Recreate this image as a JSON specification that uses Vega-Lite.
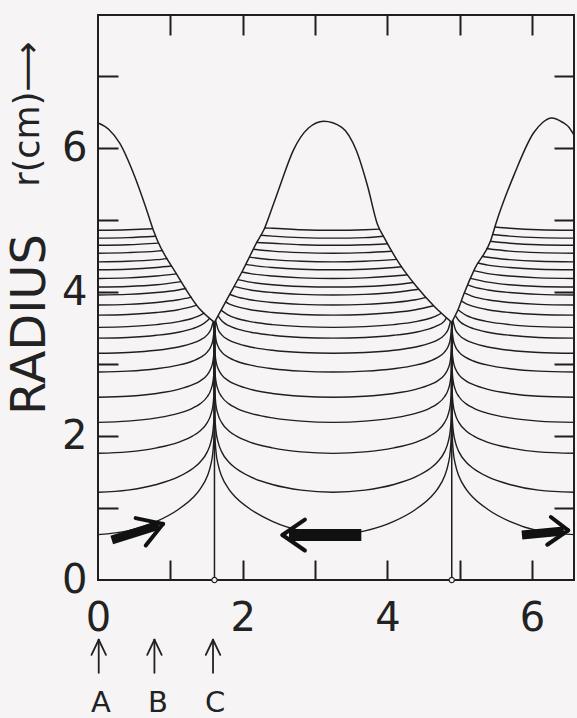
{
  "$schema": "https://vega.github.io/schema/vega-lite/v6.json",
  "width": 476,
  "height": 565,
  "autosize": {"type": "none"},
  "padding": {"left": 98, "top": 15, "right": 3, "bottom": 138},
  "background": "#f6f4f5",
  "config": {
    "view": {"stroke": "#1f1f1f", "strokeWidth": 2},
    "font": "DejaVu Sans"
  },
  "datasets": {
    "lines": [
      {"curve":"lA","z":0,"r":4.86},{"curve":"lA","z":0.41,"r":4.867},{"curve":"lA","z":0.76,"r":4.88},
      {"curve":"lB","z":0,"r":4.75},{"curve":"lB","z":0.41,"r":4.757},{"curve":"lB","z":0.798,"r":4.776},
      {"curve":"lC","z":0,"r":4.65},{"curve":"lC","z":0.41,"r":4.657},{"curve":"lC","z":0.843,"r":4.68},
      {"curve":"lD","z":0,"r":4.54},{"curve":"lD","z":0.41,"r":4.548},{"curve":"lD","z":0.81,"r":4.569},{"curve":"lD","z":0.9,"r":4.578},
      {"curve":"lE","z":0,"r":4.42},{"curve":"lE","z":0.41,"r":4.428},{"curve":"lE","z":0.81,"r":4.451},{"curve":"lE","z":0.963,"r":4.466},
      {"curve":"lF","z":0,"r":4.31},{"curve":"lF","z":0.41,"r":4.318},{"curve":"lF","z":0.81,"r":4.342},{"curve":"lF","z":1.022,"r":4.362},
      {"curve":"lG","z":0,"r":4.19},{"curve":"lG","z":0.41,"r":4.198},{"curve":"lG","z":0.81,"r":4.223},{"curve":"lG","z":1.084,"r":4.254},
      {"curve":"lH","z":0,"r":4.07},{"curve":"lH","z":0.41,"r":4.078},{"curve":"lH","z":0.81,"r":4.102},{"curve":"lH","z":1.156,"r":4.146},
      {"curve":"lI","z":0,"r":3.96},{"curve":"lI","z":0.41,"r":3.969},{"curve":"lI","z":0.81,"r":3.994},{"curve":"lI","z":1.11,"r":4.03},{"curve":"lI","z":1.22,"r":4.05},
      {"curve":"lJ","z":0,"r":3.82},{"curve":"lJ","z":0.41,"r":3.829},{"curve":"lJ","z":0.81,"r":3.855},{"curve":"lJ","z":1.11,"r":3.893},{"curve":"lJ","z":1.295,"r":3.93},
      {"curve":"lK","z":0,"r":3.68},{"curve":"lK","z":0.41,"r":3.689},{"curve":"lK","z":0.81,"r":3.716},{"curve":"lK","z":1.11,"r":3.755},{"curve":"lK","z":1.31,"r":3.801},{"curve":"lK","z":1.366,"r":3.82},
      {"curve":"lL","z":0,"r":3.51},{"curve":"lL","z":0.41,"r":3.52},{"curve":"lL","z":0.81,"r":3.548},{"curve":"lL","z":1.11,"r":3.589},{"curve":"lL","z":1.31,"r":3.637},{"curve":"lL","z":1.41,"r":3.676},{"curve":"lL","z":1.471,"r":3.71},
      {"curve":"lM","z":0,"r":3.36},{"curve":"lM","z":0.41,"r":3.37},{"curve":"lM","z":0.81,"r":3.4},{"curve":"lM","z":1.11,"r":3.443},{"curve":"lM","z":1.31,"r":3.493},{"curve":"lM","z":1.41,"r":3.533},{"curve":"lM","z":1.51,"r":3.601},{"curve":"lM","z":1.546,"r":3.64},
      {"curve":"lN","z":0,"r":3.15},{"curve":"lN","z":0.41,"r":3.161},{"curve":"lN","z":0.81,"r":3.192},{"curve":"lN","z":1.11,"r":3.238},{"curve":"lN","z":1.31,"r":3.291},{"curve":"lN","z":1.41,"r":3.333},{"curve":"lN","z":1.51,"r":3.406},{"curve":"lN","z":1.56,"r":3.479},{"curve":"lN","z":1.594,"r":3.595},
      {"curve":"lO","z":0,"r":2.89},{"curve":"lO","z":0.41,"r":2.902},{"curve":"lO","z":0.81,"r":2.936},{"curve":"lO","z":1.11,"r":2.985},{"curve":"lO","z":1.31,"r":3.043},{"curve":"lO","z":1.41,"r":3.089},{"curve":"lO","z":1.51,"r":3.167},{"curve":"lO","z":1.56,"r":3.245},{"curve":"lO","z":1.59,"r":3.344},{"curve":"lO","z":1.605,"r":3.489},{"curve":"lO","z":1.61,"r":3.58},
      {"curve":"lP","z":0,"r":2.54},{"curve":"lP","z":0.41,"r":2.553},{"curve":"lP","z":0.81,"r":2.592},{"curve":"lP","z":1.11,"r":2.648},{"curve":"lP","z":1.31,"r":2.713},{"curve":"lP","z":1.41,"r":2.764},{"curve":"lP","z":1.51,"r":2.851},{"curve":"lP","z":1.56,"r":2.938},{"curve":"lP","z":1.59,"r":3.046},{"curve":"lP","z":1.605,"r":3.205},{"curve":"lP","z":1.61,"r":3.58},
      {"curve":"lQ","z":0,"r":2.19},{"curve":"lQ","z":0.41,"r":2.207},{"curve":"lQ","z":0.81,"r":2.252},{"curve":"lQ","z":1.11,"r":2.315},{"curve":"lQ","z":1.31,"r":2.389},{"curve":"lQ","z":1.41,"r":2.447},{"curve":"lQ","z":1.51,"r":2.546},{"curve":"lQ","z":1.56,"r":2.642},{"curve":"lQ","z":1.59,"r":2.762},{"curve":"lQ","z":1.605,"r":2.936},{"curve":"lQ","z":1.61,"r":3.58},
      {"curve":"lR","z":0,"r":1.76},{"curve":"lR","z":0.41,"r":1.78},{"curve":"lR","z":0.81,"r":1.836},{"curve":"lR","z":1.11,"r":1.913},{"curve":"lR","z":1.31,"r":2.002},{"curve":"lR","z":1.41,"r":2.071},{"curve":"lR","z":1.51,"r":2.186},{"curve":"lR","z":1.56,"r":2.298},{"curve":"lR","z":1.59,"r":2.435},{"curve":"lR","z":1.605,"r":2.631},{"curve":"lR","z":1.61,"r":3.58},
      {"curve":"lS","z":0,"r":1.22},{"curve":"lS","z":0.41,"r":1.249},{"curve":"lS","z":0.81,"r":1.327},{"curve":"lS","z":1.11,"r":1.432},{"curve":"lS","z":1.31,"r":1.549},{"curve":"lS","z":1.41,"r":1.637},{"curve":"lS","z":1.51,"r":1.78},{"curve":"lS","z":1.56,"r":1.916},{"curve":"lS","z":1.59,"r":2.078},{"curve":"lS","z":1.605,"r":2.304},{"curve":"lS","z":1.61,"r":3.58},
      {"curve":"lT","z":0,"r":0.63},{"curve":"lT","z":0.41,"r":0.683},{"curve":"lT","z":0.81,"r":0.815},{"curve":"lT","z":1.11,"r":0.98},{"curve":"lT","z":1.31,"r":1.142},{"curve":"lT","z":1.41,"r":1.26},{"curve":"lT","z":1.51,"r":1.441},{"curve":"lT","z":1.56,"r":1.605},{"curve":"lT","z":1.59,"r":1.796},{"curve":"lT","z":1.605,"r":2.054},{"curve":"lT","z":1.61,"r":3.58},

      {"curve":"mA","z":2.3,"r":4.89},{"curve":"mA","z":2.41,"r":4.888},{"curve":"mA","z":2.81,"r":4.867},{"curve":"mA","z":3.25,"r":4.86},{"curve":"mA","z":3.69,"r":4.867},{"curve":"mA","z":3.898,"r":4.875},
      {"curve":"mB","z":2.25,"r":4.79},{"curve":"mB","z":2.41,"r":4.778},{"curve":"mB","z":2.81,"r":4.757},{"curve":"mB","z":3.25,"r":4.75},{"curve":"mB","z":3.69,"r":4.757},{"curve":"mB","z":3.947,"r":4.776},
      {"curve":"mC","z":2.195,"r":4.69},{"curve":"mC","z":2.41,"r":4.679},{"curve":"mC","z":2.81,"r":4.657},{"curve":"mC","z":3.25,"r":4.65},{"curve":"mC","z":3.69,"r":4.657},{"curve":"mC","z":4.005,"r":4.672},
      {"curve":"mD","z":2.148,"r":4.596},{"curve":"mD","z":2.41,"r":4.569},{"curve":"mD","z":2.81,"r":4.548},{"curve":"mD","z":3.25,"r":4.54},{"curve":"mD","z":3.69,"r":4.548},{"curve":"mD","z":4.065,"r":4.567},
      {"curve":"mE","z":2.093,"r":4.486},{"curve":"mE","z":2.41,"r":4.451},{"curve":"mE","z":2.81,"r":4.428},{"curve":"mE","z":3.25,"r":4.42},{"curve":"mE","z":3.69,"r":4.428},{"curve":"mE","z":4.13,"r":4.454},
      {"curve":"mF","z":2.043,"r":4.386},{"curve":"mF","z":2.11,"r":4.375},{"curve":"mF","z":2.41,"r":4.342},{"curve":"mF","z":2.81,"r":4.318},{"curve":"mF","z":3.25,"r":4.31},{"curve":"mF","z":3.69,"r":4.318},{"curve":"mF","z":4.09,"r":4.342},{"curve":"mF","z":4.2,"r":4.352},
      {"curve":"mG","z":1.99,"r":4.28},{"curve":"mG","z":2.11,"r":4.257},{"curve":"mG","z":2.41,"r":4.223},{"curve":"mG","z":2.81,"r":4.198},{"curve":"mG","z":3.25,"r":4.19},{"curve":"mG","z":3.69,"r":4.198},{"curve":"mG","z":4.09,"r":4.223},{"curve":"mG","z":4.282,"r":4.241},
      {"curve":"mH","z":1.93,"r":4.174},{"curve":"mH","z":2.11,"r":4.138},{"curve":"mH","z":2.41,"r":4.102},{"curve":"mH","z":2.81,"r":4.078},{"curve":"mH","z":3.25,"r":4.07},{"curve":"mH","z":3.69,"r":4.078},{"curve":"mH","z":4.09,"r":4.102},{"curve":"mH","z":4.36,"r":4.134},
      {"curve":"mI","z":1.88,"r":4.08},{"curve":"mI","z":2.11,"r":4.03},{"curve":"mI","z":2.41,"r":3.994},{"curve":"mI","z":2.81,"r":3.969},{"curve":"mI","z":3.25,"r":3.96},{"curve":"mI","z":3.69,"r":3.969},{"curve":"mI","z":4.09,"r":3.994},{"curve":"mI","z":4.437,"r":4.039},
      {"curve":"mJ","z":1.82,"r":3.97},{"curve":"mJ","z":1.91,"r":3.937},{"curve":"mJ","z":2.11,"r":3.893},{"curve":"mJ","z":2.41,"r":3.855},{"curve":"mJ","z":2.81,"r":3.829},{"curve":"mJ","z":3.25,"r":3.82},{"curve":"mJ","z":3.69,"r":3.829},{"curve":"mJ","z":4.09,"r":3.855},{"curve":"mJ","z":4.39,"r":3.893},{"curve":"mJ","z":4.538,"r":3.926},
      {"curve":"mK","z":1.764,"r":3.864},{"curve":"mK","z":1.81,"r":3.838},{"curve":"mK","z":1.91,"r":3.801},{"curve":"mK","z":2.11,"r":3.755},{"curve":"mK","z":2.41,"r":3.716},{"curve":"mK","z":2.81,"r":3.689},{"curve":"mK","z":3.25,"r":3.68},{"curve":"mK","z":3.69,"r":3.689},{"curve":"mK","z":4.09,"r":3.716},{"curve":"mK","z":4.39,"r":3.755},{"curve":"mK","z":4.641,"r":3.81},
      {"curve":"mL","z":1.7,"r":3.75},{"curve":"mL","z":1.81,"r":3.676},{"curve":"mL","z":1.91,"r":3.637},{"curve":"mL","z":2.11,"r":3.589},{"curve":"mL","z":2.41,"r":3.548},{"curve":"mL","z":2.81,"r":3.52},{"curve":"mL","z":3.25,"r":3.51},{"curve":"mL","z":3.69,"r":3.52},{"curve":"mL","z":4.09,"r":3.548},{"curve":"mL","z":4.39,"r":3.589},{"curve":"mL","z":4.59,"r":3.637},{"curve":"mL","z":4.69,"r":3.676},{"curve":"mL","z":4.748,"r":3.71},
      {"curve":"mM","z":1.66,"r":3.67},{"curve":"mM","z":1.71,"r":3.601},{"curve":"mM","z":1.81,"r":3.533},{"curve":"mM","z":1.91,"r":3.493},{"curve":"mM","z":2.11,"r":3.443},{"curve":"mM","z":2.41,"r":3.4},{"curve":"mM","z":2.81,"r":3.37},{"curve":"mM","z":3.25,"r":3.36},{"curve":"mM","z":3.69,"r":3.37},{"curve":"mM","z":4.09,"r":3.4},{"curve":"mM","z":4.39,"r":3.443},{"curve":"mM","z":4.59,"r":3.493},{"curve":"mM","z":4.69,"r":3.533},{"curve":"mM","z":4.79,"r":3.601},{"curve":"mM","z":4.819,"r":3.645},
      {"curve":"mN","z":1.625,"r":3.61},{"curve":"mN","z":1.66,"r":3.479},{"curve":"mN","z":1.71,"r":3.406},{"curve":"mN","z":1.81,"r":3.333},{"curve":"mN","z":1.91,"r":3.291},{"curve":"mN","z":2.11,"r":3.238},{"curve":"mN","z":2.41,"r":3.192},{"curve":"mN","z":2.81,"r":3.161},{"curve":"mN","z":3.25,"r":3.15},{"curve":"mN","z":3.69,"r":3.161},{"curve":"mN","z":4.09,"r":3.192},{"curve":"mN","z":4.39,"r":3.238},{"curve":"mN","z":4.59,"r":3.291},{"curve":"mN","z":4.69,"r":3.333},{"curve":"mN","z":4.79,"r":3.406},{"curve":"mN","z":4.84,"r":3.479},{"curve":"mN","z":4.874,"r":3.595},
      {"curve":"mO","z":1.61,"r":3.58},{"curve":"mO","z":1.615,"r":3.489},{"curve":"mO","z":1.63,"r":3.344},{"curve":"mO","z":1.66,"r":3.245},{"curve":"mO","z":1.71,"r":3.167},{"curve":"mO","z":1.81,"r":3.089},{"curve":"mO","z":1.91,"r":3.043},{"curve":"mO","z":2.11,"r":2.985},{"curve":"mO","z":2.41,"r":2.936},{"curve":"mO","z":2.81,"r":2.902},{"curve":"mO","z":3.25,"r":2.89},{"curve":"mO","z":3.69,"r":2.902},{"curve":"mO","z":4.09,"r":2.936},{"curve":"mO","z":4.39,"r":2.985},{"curve":"mO","z":4.59,"r":3.043},{"curve":"mO","z":4.69,"r":3.089},{"curve":"mO","z":4.79,"r":3.167},{"curve":"mO","z":4.84,"r":3.245},{"curve":"mO","z":4.87,"r":3.344},{"curve":"mO","z":4.885,"r":3.489},{"curve":"mO","z":4.89,"r":3.58},
      {"curve":"mP","z":1.61,"r":3.58},{"curve":"mP","z":1.615,"r":3.205},{"curve":"mP","z":1.63,"r":3.046},{"curve":"mP","z":1.66,"r":2.938},{"curve":"mP","z":1.71,"r":2.851},{"curve":"mP","z":1.81,"r":2.764},{"curve":"mP","z":1.91,"r":2.713},{"curve":"mP","z":2.11,"r":2.648},{"curve":"mP","z":2.41,"r":2.592},{"curve":"mP","z":2.81,"r":2.553},{"curve":"mP","z":3.25,"r":2.54},{"curve":"mP","z":3.69,"r":2.553},{"curve":"mP","z":4.09,"r":2.592},{"curve":"mP","z":4.39,"r":2.648},{"curve":"mP","z":4.59,"r":2.713},{"curve":"mP","z":4.69,"r":2.764},{"curve":"mP","z":4.79,"r":2.851},{"curve":"mP","z":4.84,"r":2.938},{"curve":"mP","z":4.87,"r":3.046},{"curve":"mP","z":4.885,"r":3.205},{"curve":"mP","z":4.89,"r":3.58},
      {"curve":"mQ","z":1.61,"r":3.58},{"curve":"mQ","z":1.615,"r":2.936},{"curve":"mQ","z":1.63,"r":2.762},{"curve":"mQ","z":1.66,"r":2.642},{"curve":"mQ","z":1.71,"r":2.546},{"curve":"mQ","z":1.81,"r":2.447},{"curve":"mQ","z":1.91,"r":2.389},{"curve":"mQ","z":2.11,"r":2.315},{"curve":"mQ","z":2.41,"r":2.252},{"curve":"mQ","z":2.81,"r":2.207},{"curve":"mQ","z":3.25,"r":2.19},{"curve":"mQ","z":3.69,"r":2.207},{"curve":"mQ","z":4.09,"r":2.252},{"curve":"mQ","z":4.39,"r":2.315},{"curve":"mQ","z":4.59,"r":2.389},{"curve":"mQ","z":4.69,"r":2.447},{"curve":"mQ","z":4.79,"r":2.546},{"curve":"mQ","z":4.84,"r":2.642},{"curve":"mQ","z":4.87,"r":2.762},{"curve":"mQ","z":4.885,"r":2.936},{"curve":"mQ","z":4.89,"r":3.58},
      {"curve":"mR","z":1.61,"r":3.58},{"curve":"mR","z":1.615,"r":2.631},{"curve":"mR","z":1.63,"r":2.435},{"curve":"mR","z":1.66,"r":2.298},{"curve":"mR","z":1.71,"r":2.186},{"curve":"mR","z":1.81,"r":2.071},{"curve":"mR","z":1.91,"r":2.002},{"curve":"mR","z":2.11,"r":1.913},{"curve":"mR","z":2.41,"r":1.836},{"curve":"mR","z":2.81,"r":1.78},{"curve":"mR","z":3.25,"r":1.76},{"curve":"mR","z":3.69,"r":1.78},{"curve":"mR","z":4.09,"r":1.836},{"curve":"mR","z":4.39,"r":1.913},{"curve":"mR","z":4.59,"r":2.002},{"curve":"mR","z":4.69,"r":2.071},{"curve":"mR","z":4.79,"r":2.186},{"curve":"mR","z":4.84,"r":2.298},{"curve":"mR","z":4.87,"r":2.435},{"curve":"mR","z":4.885,"r":2.631},{"curve":"mR","z":4.89,"r":3.58},
      {"curve":"mS","z":1.61,"r":3.58},{"curve":"mS","z":1.615,"r":2.304},{"curve":"mS","z":1.63,"r":2.078},{"curve":"mS","z":1.66,"r":1.916},{"curve":"mS","z":1.71,"r":1.78},{"curve":"mS","z":1.81,"r":1.637},{"curve":"mS","z":1.91,"r":1.549},{"curve":"mS","z":2.11,"r":1.432},{"curve":"mS","z":2.41,"r":1.327},{"curve":"mS","z":2.81,"r":1.249},{"curve":"mS","z":3.25,"r":1.22},{"curve":"mS","z":3.69,"r":1.249},{"curve":"mS","z":4.09,"r":1.327},{"curve":"mS","z":4.39,"r":1.432},{"curve":"mS","z":4.59,"r":1.549},{"curve":"mS","z":4.69,"r":1.637},{"curve":"mS","z":4.79,"r":1.78},{"curve":"mS","z":4.84,"r":1.916},{"curve":"mS","z":4.87,"r":2.078},{"curve":"mS","z":4.885,"r":2.304},{"curve":"mS","z":4.89,"r":3.58},
      {"curve":"mT","z":1.61,"r":3.58},{"curve":"mT","z":1.615,"r":2.054},{"curve":"mT","z":1.63,"r":1.796},{"curve":"mT","z":1.66,"r":1.605},{"curve":"mT","z":1.71,"r":1.441},{"curve":"mT","z":1.81,"r":1.26},{"curve":"mT","z":1.91,"r":1.142},{"curve":"mT","z":2.11,"r":0.98},{"curve":"mT","z":2.41,"r":0.815},{"curve":"mT","z":2.81,"r":0.683},{"curve":"mT","z":3.25,"r":0.63},{"curve":"mT","z":3.69,"r":0.683},{"curve":"mT","z":4.09,"r":0.815},{"curve":"mT","z":4.39,"r":0.98},{"curve":"mT","z":4.59,"r":1.142},{"curve":"mT","z":4.69,"r":1.26},{"curve":"mT","z":4.79,"r":1.441},{"curve":"mT","z":4.84,"r":1.605},{"curve":"mT","z":4.87,"r":1.796},{"curve":"mT","z":4.885,"r":2.054},{"curve":"mT","z":4.89,"r":3.58},

      {"curve":"rA","z":5.486,"r":4.905},{"curve":"rA","z":5.69,"r":4.888},{"curve":"rA","z":6.09,"r":4.867},{"curve":"rA","z":6.58,"r":4.86},
      {"curve":"rB","z":5.454,"r":4.8},{"curve":"rB","z":5.69,"r":4.778},{"curve":"rB","z":6.09,"r":4.757},{"curve":"rB","z":6.58,"r":4.75},
      {"curve":"rC","z":5.422,"r":4.706},{"curve":"rC","z":5.69,"r":4.679},{"curve":"rC","z":6.09,"r":4.657},{"curve":"rC","z":6.58,"r":4.65},
      {"curve":"rD","z":5.365,"r":4.605},{"curve":"rD","z":5.69,"r":4.569},{"curve":"rD","z":6.09,"r":4.548},{"curve":"rD","z":6.58,"r":4.54},
      {"curve":"rE","z":5.305,"r":4.499},{"curve":"rE","z":5.39,"r":4.484},{"curve":"rE","z":5.69,"r":4.451},{"curve":"rE","z":6.09,"r":4.428},{"curve":"rE","z":6.58,"r":4.42},
      {"curve":"rF","z":5.252,"r":4.405},{"curve":"rF","z":5.39,"r":4.375},{"curve":"rF","z":5.69,"r":4.342},{"curve":"rF","z":6.09,"r":4.318},{"curve":"rF","z":6.58,"r":4.31},
      {"curve":"rG","z":5.196,"r":4.298},{"curve":"rG","z":5.39,"r":4.257},{"curve":"rG","z":5.69,"r":4.223},{"curve":"rG","z":6.09,"r":4.198},{"curve":"rG","z":6.58,"r":4.19},
      {"curve":"rH","z":5.15,"r":4.19},{"curve":"rH","z":5.39,"r":4.138},{"curve":"rH","z":5.69,"r":4.102},{"curve":"rH","z":6.09,"r":4.078},{"curve":"rH","z":6.58,"r":4.07},
      {"curve":"rI","z":5.112,"r":4.1},{"curve":"rI","z":5.19,"r":4.073},{"curve":"rI","z":5.39,"r":4.03},{"curve":"rI","z":5.69,"r":3.994},{"curve":"rI","z":6.09,"r":3.969},{"curve":"rI","z":6.58,"r":3.96},
      {"curve":"rJ","z":5.064,"r":3.99},{"curve":"rJ","z":5.19,"r":3.937},{"curve":"rJ","z":5.39,"r":3.893},{"curve":"rJ","z":5.69,"r":3.855},{"curve":"rJ","z":6.09,"r":3.829},{"curve":"rJ","z":6.58,"r":3.82},
      {"curve":"rK","z":5.022,"r":3.878},{"curve":"rK","z":5.09,"r":3.838},{"curve":"rK","z":5.19,"r":3.801},{"curve":"rK","z":5.39,"r":3.755},{"curve":"rK","z":5.69,"r":3.716},{"curve":"rK","z":6.09,"r":3.689},{"curve":"rK","z":6.58,"r":3.68},
      {"curve":"rL","z":4.978,"r":3.755},{"curve":"rL","z":5.09,"r":3.676},{"curve":"rL","z":5.19,"r":3.637},{"curve":"rL","z":5.39,"r":3.589},{"curve":"rL","z":5.69,"r":3.548},{"curve":"rL","z":6.09,"r":3.52},{"curve":"rL","z":6.58,"r":3.51},
      {"curve":"rM","z":4.938,"r":3.676},{"curve":"rM","z":4.99,"r":3.601},{"curve":"rM","z":5.09,"r":3.533},{"curve":"rM","z":5.19,"r":3.493},{"curve":"rM","z":5.39,"r":3.443},{"curve":"rM","z":5.69,"r":3.4},{"curve":"rM","z":6.09,"r":3.37},{"curve":"rM","z":6.58,"r":3.36},
      {"curve":"rN","z":4.905,"r":3.61},{"curve":"rN","z":4.94,"r":3.479},{"curve":"rN","z":4.99,"r":3.406},{"curve":"rN","z":5.09,"r":3.333},{"curve":"rN","z":5.19,"r":3.291},{"curve":"rN","z":5.39,"r":3.238},{"curve":"rN","z":5.69,"r":3.192},{"curve":"rN","z":6.09,"r":3.161},{"curve":"rN","z":6.58,"r":3.15},
      {"curve":"rO","z":4.89,"r":3.58},{"curve":"rO","z":4.895,"r":3.489},{"curve":"rO","z":4.91,"r":3.344},{"curve":"rO","z":4.94,"r":3.245},{"curve":"rO","z":4.99,"r":3.167},{"curve":"rO","z":5.09,"r":3.089},{"curve":"rO","z":5.19,"r":3.043},{"curve":"rO","z":5.39,"r":2.985},{"curve":"rO","z":5.69,"r":2.936},{"curve":"rO","z":6.09,"r":2.902},{"curve":"rO","z":6.58,"r":2.89},
      {"curve":"rP","z":4.89,"r":3.58},{"curve":"rP","z":4.895,"r":3.205},{"curve":"rP","z":4.91,"r":3.046},{"curve":"rP","z":4.94,"r":2.938},{"curve":"rP","z":4.99,"r":2.851},{"curve":"rP","z":5.09,"r":2.764},{"curve":"rP","z":5.19,"r":2.713},{"curve":"rP","z":5.39,"r":2.648},{"curve":"rP","z":5.69,"r":2.592},{"curve":"rP","z":6.09,"r":2.553},{"curve":"rP","z":6.58,"r":2.54},
      {"curve":"rQ","z":4.89,"r":3.58},{"curve":"rQ","z":4.895,"r":2.936},{"curve":"rQ","z":4.91,"r":2.762},{"curve":"rQ","z":4.94,"r":2.642},{"curve":"rQ","z":4.99,"r":2.546},{"curve":"rQ","z":5.09,"r":2.447},{"curve":"rQ","z":5.19,"r":2.389},{"curve":"rQ","z":5.39,"r":2.315},{"curve":"rQ","z":5.69,"r":2.252},{"curve":"rQ","z":6.09,"r":2.207},{"curve":"rQ","z":6.58,"r":2.19},
      {"curve":"rR","z":4.89,"r":3.58},{"curve":"rR","z":4.895,"r":2.631},{"curve":"rR","z":4.91,"r":2.435},{"curve":"rR","z":4.94,"r":2.298},{"curve":"rR","z":4.99,"r":2.186},{"curve":"rR","z":5.09,"r":2.071},{"curve":"rR","z":5.19,"r":2.002},{"curve":"rR","z":5.39,"r":1.913},{"curve":"rR","z":5.69,"r":1.836},{"curve":"rR","z":6.09,"r":1.78},{"curve":"rR","z":6.58,"r":1.76},
      {"curve":"rS","z":4.89,"r":3.58},{"curve":"rS","z":4.895,"r":2.304},{"curve":"rS","z":4.91,"r":2.078},{"curve":"rS","z":4.94,"r":1.916},{"curve":"rS","z":4.99,"r":1.78},{"curve":"rS","z":5.09,"r":1.637},{"curve":"rS","z":5.19,"r":1.549},{"curve":"rS","z":5.39,"r":1.432},{"curve":"rS","z":5.69,"r":1.327},{"curve":"rS","z":6.09,"r":1.249},{"curve":"rS","z":6.58,"r":1.22},
      {"curve":"rT","z":4.89,"r":3.58},{"curve":"rT","z":4.895,"r":2.054},{"curve":"rT","z":4.91,"r":1.796},{"curve":"rT","z":4.94,"r":1.605},{"curve":"rT","z":4.99,"r":1.441},{"curve":"rT","z":5.09,"r":1.26},{"curve":"rT","z":5.19,"r":1.142},{"curve":"rT","z":5.39,"r":0.98},{"curve":"rT","z":5.69,"r":0.815},{"curve":"rT","z":6.09,"r":0.683},{"curve":"rT","z":6.58,"r":0.63}
    ],
    "wall": [
      {"curve":"h1","z":0,"r":6.35},{"curve":"h1","z":0.15,"r":6.26},{"curve":"h1","z":0.3,"r":6.07},{"curve":"h1","z":0.51,"r":5.6},{"curve":"h1","z":0.66,"r":5.18},{"curve":"h1","z":0.78,"r":4.82},{"curve":"h1","z":0.82,"r":4.72},{"curve":"h1","z":1.08,"r":4.26},{"curve":"h1","z":1.385,"r":3.79},{"curve":"h1","z":1.61,"r":3.58},
      {"curve":"h2","z":1.61,"r":3.58},{"curve":"h2","z":1.8,"r":3.93},{"curve":"h2","z":2.0,"r":4.3},{"curve":"h2","z":2.2,"r":4.7},{"curve":"h2","z":2.3,"r":4.88},{"curve":"h2","z":2.4,"r":5.15},{"curve":"h2","z":2.51,"r":5.46},{"curve":"h2","z":2.7,"r":5.97},{"curve":"h2","z":2.91,"r":6.28},{"curve":"h2","z":3.12,"r":6.375},{"curve":"h2","z":3.37,"r":6.29},{"curve":"h2","z":3.57,"r":5.97},{"curve":"h2","z":3.73,"r":5.46},{"curve":"h2","z":3.86,"r":4.95},{"curve":"h2","z":3.96,"r":4.75},{"curve":"h2","z":4.15,"r":4.42},{"curve":"h2","z":4.4,"r":4.08},{"curve":"h2","z":4.65,"r":3.8},{"curve":"h2","z":4.89,"r":3.58},
      {"curve":"h3","z":4.89,"r":3.58},{"curve":"h3","z":4.97,"r":3.74},{"curve":"h3","z":5.06,"r":3.98},{"curve":"h3","z":5.21,"r":4.33},{"curve":"h3","z":5.43,"r":4.72},{"curve":"h3","z":5.5,"r":4.95},{"curve":"h3","z":5.76,"r":5.65},{"curve":"h3","z":6.02,"r":6.21},{"curve":"h3","z":6.15,"r":6.36},{"curve":"h3","z":6.27,"r":6.42},{"curve":"h3","z":6.42,"r":6.36},{"curve":"h3","z":6.51,"r":6.29},{"curve":"h3","z":6.58,"r":6.18}
    ],
    "separatrix": [
      {"z":1.61,"r":0,"r2":3.58},
      {"z":4.89,"r":0,"r2":3.58}
    ],
    "arrows": [
      {"arrow":"left","part":"body","z":0.19,"r":0.555,"z2":0.84,"r2":0.76},
      {"arrow":"middle","part":"wide","z":2.64,"r":0.625,"z2":3.64,"r2":0.625},
      {"arrow":"right","part":"body","z":5.86,"r":0.625,"z2":6.44,"r2":0.68},
      {"arrow":"left","part":"barb","z":0.52,"r":0.86,"z2":0.9,"r2":0.78},
      {"arrow":"left","part":"barb","z":0.66,"r":0.48,"z2":0.9,"r2":0.78},
      {"arrow":"middle","part":"barb","z":2.86,"r":0.84,"z2":2.55,"r2":0.625},
      {"arrow":"middle","part":"barb","z":2.86,"r":0.41,"z2":2.55,"r2":0.625},
      {"arrow":"right","part":"barb","z":6.26,"r":0.875,"z2":6.5,"r2":0.69},
      {"arrow":"right","part":"barb","z":6.21,"r":0.49,"z2":6.5,"r2":0.69}
    ],
    "pointers": [
      {"pos":"A","z":0.01,"r":-0.83,"z2":0.01,"r2":-1.29},
      {"pos":"A","z":-0.09,"r":-1.04,"z2":0.01,"r2":-0.83},
      {"pos":"A","z":0.11,"r":-1.04,"z2":0.01,"r2":-0.83},
      {"pos":"B","z":0.78,"r":-0.83,"z2":0.78,"r2":-1.29},
      {"pos":"B","z":0.68,"r":-1.04,"z2":0.78,"r2":-0.83},
      {"pos":"B","z":0.88,"r":-1.04,"z2":0.78,"r2":-0.83},
      {"pos":"C","z":1.59,"r":-0.83,"z2":1.59,"r2":-1.29},
      {"pos":"C","z":1.49,"r":-1.04,"z2":1.59,"r2":-0.83},
      {"pos":"C","z":1.69,"r":-1.04,"z2":1.59,"r2":-0.83}
    ],
    "positions": [
      {"z":0.04,"r":-1.71,"name":"A"},{"z":0.83,"r":-1.71,"name":"B"},{"z":1.62,"r":-1.71,"name":"C"}
    ]
  },
  "resolve": {"axis": {"x": "independent", "y": "independent"}},
  "layer": [
    {
      "data": {"name": "lines"},
      "mark": {"type": "line", "interpolate": "monotone", "stroke": "#1f1f1f", "strokeWidth": 1.4, "clip": true},
      "encoding": {
        "x": {"field": "z", "type": "quantitative", "scale": {"domain": [0, 6.58], "nice": false, "zero": false},
              "axis": {"orient": "bottom", "values": [0, 2, 4, 6], "ticks": false, "domain": false, "grid": false,
                       "labelFontSize": 40, "labelFontWeight": "normal", "labelColor": "#222", "labelPadding": 18,
                       "labelFlush": false, "labelOverlap": false, "title": null}},
        "y": {"field": "r", "type": "quantitative", "scale": {"domain": [0, 7.85], "nice": false, "zero": false},
              "axis": {"orient": "left", "values": [0, 2, 4, 6], "ticks": false, "domain": false, "grid": false,
                       "labelFontSize": 40, "labelFontWeight": "normal", "labelColor": "#222", "labelPadding": 11,
                       "labelFlush": false, "labelOverlap": false,
                       "title": "RADIUS", "titleFontSize": 48, "titleFontWeight": "normal", "titleColor": "#222",
                       "titleAngle": -90, "titleX": -54, "titleY": 309, "titleAlign": "center", "titleBaseline": "alphabetic"}},
        "detail": {"field": "curve"}
      }
    },
    {
      "data": {"name": "wall"},
      "mark": {"type": "line", "interpolate": "monotone", "stroke": "#1f1f1f", "strokeWidth": 1.5, "clip": true},
      "encoding": {
        "x": {"field": "z", "type": "quantitative", "scale": {"domain": [0, 6.58], "nice": false, "zero": false},
              "axis": {"orient": "bottom", "values": [1, 2, 3, 4, 5, 6], "labels": false, "domain": false, "grid": false,
                       "ticks": true, "tickSize": -20, "tickWidth": 2, "tickColor": "#1f1f1f", "title": null}},
        "y": {"field": "r", "type": "quantitative", "scale": {"domain": [0, 7.85], "nice": false, "zero": false},
              "axis": {"orient": "left", "values": [1, 2, 3, 4, 5, 6, 7], "labels": false, "domain": false, "grid": false,
                       "ticks": true, "tickSize": -20, "tickWidth": 2, "tickColor": "#1f1f1f",
                       "title": "r(cm)⟶", "titleFontSize": 35, "titleFontWeight": "normal", "titleColor": "#222",
                       "titleAngle": -90, "titleX": -60, "titleY": 26, "titleAlign": "right", "titleBaseline": "alphabetic"}},
        "detail": {"field": "curve"}
      }
    },
    {
      "data": {"name": "separatrix"},
      "mark": {"type": "rule", "stroke": "#1f1f1f", "strokeWidth": 1.5},
      "encoding": {
        "x": {"field": "z", "type": "quantitative", "scale": {"domain": [0, 6.58], "nice": false, "zero": false},
              "axis": {"orient": "top", "values": [1, 2, 3, 4, 5, 6], "labels": false, "domain": false, "grid": false,
                       "ticks": true, "tickSize": -20, "tickWidth": 2, "tickColor": "#1f1f1f", "title": null}},
        "y": {"field": "r", "type": "quantitative", "scale": {"domain": [0, 7.85], "nice": false, "zero": false},
              "axis": {"orient": "right", "values": [1, 2, 3, 4, 5, 6, 7], "labels": false, "domain": false, "grid": false,
                       "ticks": true, "tickSize": -20, "tickWidth": 2, "tickColor": "#1f1f1f", "title": null}},
        "y2": {"field": "r2"}
      }
    },
    {
      "data": {"name": "separatrix"},
      "mark": {"type": "point", "shape": "circle", "size": 28, "filled": true, "fill": "#f6f4f5", "stroke": "#1f1f1f", "strokeWidth": 1.2, "opacity": 1},
      "encoding": {
        "x": {"field": "z", "type": "quantitative", "scale": {"domain": [0, 6.58], "nice": false, "zero": false}, "axis": null},
        "y": {"field": "r", "type": "quantitative", "scale": {"domain": [0, 7.85], "nice": false, "zero": false}, "axis": null}
      }
    },
    {
      "data": {"name": "arrows"},
      "transform": [{"filter": "datum.part !== 'barb'"}],
      "mark": {"type": "rule", "stroke": "#111", "strokeCap": "butt"},
      "encoding": {
        "x": {"field": "z", "type": "quantitative", "scale": {"domain": [0, 6.58], "nice": false, "zero": false}, "axis": null},
        "y": {"field": "r", "type": "quantitative", "scale": {"domain": [0, 7.85], "nice": false, "zero": false}, "axis": null},
        "x2": {"field": "z2"},
        "y2": {"field": "r2"},
        "strokeWidth": {"field": "part", "type": "nominal", "scale": {"domain": ["body", "wide"], "range": [9, 12]}, "legend": null}
      }
    },
    {
      "data": {"name": "arrows"},
      "transform": [{"filter": "datum.part === 'barb'"}],
      "mark": {"type": "rule", "stroke": "#111", "strokeWidth": 4, "strokeCap": "round"},
      "encoding": {
        "x": {"field": "z", "type": "quantitative", "scale": {"domain": [0, 6.58], "nice": false, "zero": false}, "axis": null},
        "y": {"field": "r", "type": "quantitative", "scale": {"domain": [0, 7.85], "nice": false, "zero": false}, "axis": null},
        "x2": {"field": "z2"},
        "y2": {"field": "r2"}
      }
    },
    {
      "data": {"name": "pointers"},
      "mark": {"type": "rule", "stroke": "#222", "strokeWidth": 1.8, "strokeCap": "round", "clip": false},
      "encoding": {
        "x": {"field": "z", "type": "quantitative", "scale": {"domain": [0, 6.58], "nice": false, "zero": false}, "axis": null},
        "y": {"field": "r", "type": "quantitative", "scale": {"domain": [0, 7.85], "nice": false, "zero": false}, "axis": null},
        "x2": {"field": "z2"},
        "y2": {"field": "r2"}
      }
    },
    {
      "data": {"name": "positions"},
      "mark": {"type": "text", "fontSize": 29, "fontWeight": "normal", "color": "#222", "align": "center", "baseline": "middle", "clip": false},
      "encoding": {
        "x": {"field": "z", "type": "quantitative", "scale": {"domain": [0, 6.58], "nice": false, "zero": false}, "axis": null},
        "y": {"field": "r", "type": "quantitative", "scale": {"domain": [0, 7.85], "nice": false, "zero": false}, "axis": null},
        "text": {"field": "name"}
      }
    }
  ]
}
